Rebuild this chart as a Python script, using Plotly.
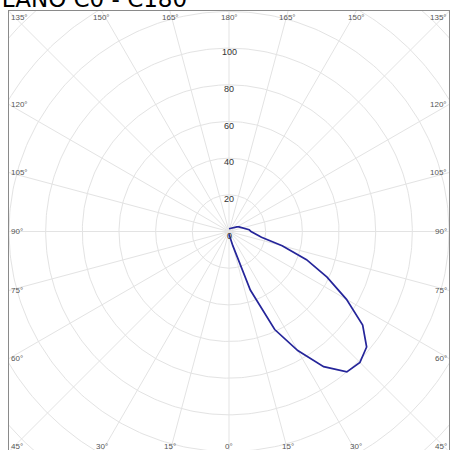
import numpy as np
import plotly.graph_objects as go

# Luminous intensity, plane C0 - C180 (gamma in degrees, intensity in cd/klm)
gamma_deg = [0, 5, 10, 15, 20, 25, 30, 35, 40, 45, 50, 55, 60, 65, 70, 75, 80, 85,
             90, 95, 100, 105, 110, 115, 120, 125, 130, 135, 140, 145, 150, 160, 170, 180]
intensity = [1.5, 2, 4, 8, 34, 59, 75, 90, 100, 101, 98, 89, 74, 59, 45, 30, 18, 14,
             12, 11, 9, 8, 7, 6, 5, 4, 3.5, 3, 2.5, 2.5, 2, 2, 1.5, 1.5]

ring_values = [20, 40, 60, 80, 100, 120, 140, 160]
ring_labels = [0, 20, 40, 60, 80, 100]
ray_step = 15

title_text = "PLANO C0 - C180"

HALF = 120.0              # half side of the square frame, in intensity units
Y_TOP, Y_BOTTOM = 120.27, -119.18

GRID = "#e3e3e3"
CURVE = "#25259a"
FRAME = "#8a8a8a"
LABEL = "#555555"

fig = go.Figure()

# concentric rings
t = np.linspace(0, 2 * np.pi, 361)
for rv in ring_values:
    fig.add_trace(go.Scatter(x=rv * np.sin(t), y=rv * np.cos(t), mode="lines",
                             line=dict(color=GRID, width=1), hoverinfo="skip",
                             showlegend=False))

# radial rays every 15 degrees
for a in range(0, 360, ray_step):
    ar = np.radians(a)
    fig.add_trace(go.Scatter(x=[0, 180 * np.sin(ar)], y=[0, -180 * np.cos(ar)],
                             mode="lines", line=dict(color=GRID, width=1),
                             hoverinfo="skip", showlegend=False))

# photometric curve: gamma 0 points straight down
g = np.radians(np.array(gamma_deg, dtype=float))
I = np.array(intensity, dtype=float)
fig.add_trace(go.Scatter(x=I * np.sin(g), y=-I * np.cos(g), mode="lines",
                         line=dict(color=CURVE, width=1.7), hoverinfo="skip",
                         showlegend=False))

annotations = []
# radial value labels along the upward axis
for rv in ring_labels:
    annotations.append(dict(x=0, y=rv, xref="x", yref="y", text=str(rv),
                            showarrow=False, yshift=-4,
                            font=dict(family="Liberation Sans, Arial", size=9,
                                      color="#333333")))

# angle labels where the rays meet the frame
for side in (1, -1):
    for gd in range(0, 181, ray_step):
        if side == -1 and gd in (0, 180):
            continue
        gr = np.radians(gd)
        dx, dy = side * np.sin(gr), -np.cos(gr)
        ann = dict(text=f"{gd}°", showarrow=False,
                   font=dict(family="Liberation Sans, Arial", size=8, color=LABEL))
        edge_shift = 0 if dy > 0 else -3
        if abs(abs(dx) - abs(dy)) < 1e-9:
            ann.update(x=side * HALF, xref="x", xanchor="right" if side > 0 else "left",
                       y=1 if dy > 0 else 0, yref="paper",
                       yanchor="top" if dy > 0 else "bottom", yshift=edge_shift)
        elif abs(dx) > abs(dy):
            ann.update(x=side * HALF, xref="x", xanchor="right" if side > 0 else "left",
                       y=HALF * dy / abs(dx), yref="y", yanchor="middle")
        else:
            ann.update(x=HALF * dx / abs(dy), xref="x", xanchor="center",
                       y=1 if dy > 0 else 0, yref="paper",
                       yanchor="top" if dy > 0 else "bottom", yshift=edge_shift)
        annotations.append(ann)

# title
annotations.append(dict(text=title_text, x=0, y=1, xref="paper", yref="paper",
                        xanchor="left", yanchor="bottom", xshift=-23, yshift=-3,
                        showarrow=False,
                        font=dict(family="DejaVu Sans", size=23, color="#000000")))

fig.update_layout(
    width=451, height=450,
    margin=dict(l=9, r=2, t=11, b=0),
    paper_bgcolor="white", plot_bgcolor="white",
    annotations=annotations,
    hovermode=False,
    xaxis=dict(range=[-HALF, HALF], showgrid=False, zeroline=False, showticklabels=False,
               ticks="", side="top", showline=True, linecolor=FRAME, linewidth=1,
               fixedrange=True),
    yaxis=dict(range=[Y_BOTTOM, Y_TOP], showgrid=False, zeroline=False,
               showticklabels=False, ticks="", showline=True, mirror=True,
               linecolor=FRAME, linewidth=1, fixedrange=True),
)

fig.write_html("out.html", config={"displayModeBar": False})
